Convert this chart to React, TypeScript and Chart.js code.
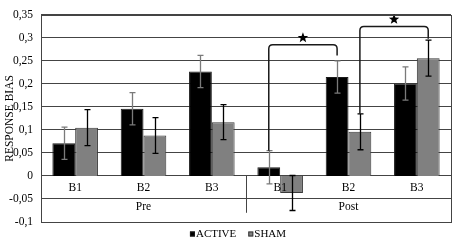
import React, { useEffect, useRef } from "react";
import { Chart, registerables } from "chart.js";

Chart.register(...registerables);

const CATEGORIES = ["B1", "B2", "B3", "B1", "B2", "B3"];
const GROUPS = ["Pre", "Post"];
const GROUP_SIZE = 3;
const SERIES_NAMES = ["ACTIVE", "SHAM"];
const ACTIVE = [0.071, 0.146, 0.227, 0.019, 0.215, 0.201];
const SHAM = [0.105, 0.088, 0.117, -0.037, 0.096, 0.256];
const ACTIVE_ERR = [0.035, 0.035, 0.035, 0.036, 0.035, 0.036];
const SHAM_ERR = [0.039, 0.039, 0.038, 0.038, 0.039, 0.039];
const Y_MIN = -0.1;
const Y_MAX = 0.35;
const Y_STEP = 0.05;
const Y_TITLE = "RESPONSE BIAS";

// significance brackets
const BR_LEFT_CAT = [3, 4];
const BR_LEFT_SET = [0, 1];
const BR_LEFT_Y = [0.055, 0.135];
const BR_RIGHT_CAT = [4, 5];
const BR_RIGHT_SET = [0, 1];
const BR_RIGHT_Y = [0.262, 0.298];
const BR_TOP_Y = [0.285, 0.325];

const FONT_FAMILY = "'Liberation Serif', 'Times New Roman', serif";
const GRID = "#444444";

function drawStar(ctx: CanvasRenderingContext2D, cx: number, cy: number, r: number) {
  ctx.beginPath();
  for (let i = 0; i < 10; i++) {
    const rad = i % 2 === 0 ? r : r * 0.42;
    const a = -Math.PI / 2 + (i * Math.PI) / 5;
    const x = cx + rad * Math.cos(a);
    const y = cy + rad * Math.sin(a);
    if (i === 0) ctx.moveTo(x, y);
    else ctx.lineTo(x, y);
  }
  ctx.closePath();
  ctx.fill();
}

const decorPlugin = {
  id: "decor",
  afterDatasetsDraw(chart: any) {
    const ctx: CanvasRenderingContext2D = chart.ctx;
    const xs = chart.scales.x;
    const ys = chart.scales.y;
    const area = chart.chartArea;
    ctx.save();

    // category labels
    ctx.fillStyle = "#000";
    ctx.font = `11.5px ${FONT_FAMILY}`;
    ctx.textAlign = "center";
    ctx.textBaseline = "middle";
    CATEGORIES.forEach((c, i) => {
      ctx.fillText(c, xs.getPixelForValue(i), ys.getPixelForValue(-0.027));
    });
    GROUPS.forEach((g, gi) => {
      const a = xs.getPixelForValue(gi * GROUP_SIZE);
      const b = xs.getPixelForValue(gi * GROUP_SIZE + GROUP_SIZE - 1);
      ctx.fillText(g, (a + b) / 2, ys.getPixelForValue(-0.0675));
    });
    // group separator
    ctx.strokeStyle = GRID;
    ctx.lineWidth = 1;
    for (let gi = 1; gi < GROUPS.length; gi++) {
      const x = Math.round(
        (xs.getPixelForValue(gi * GROUP_SIZE - 1) + xs.getPixelForValue(gi * GROUP_SIZE)) / 2
      ) + 0.5;
      ctx.beginPath();
      ctx.moveTo(x, ys.getPixelForValue(0));
      ctx.lineTo(x, ys.getPixelForValue(-0.08));
      ctx.stroke();
    }

    // error bars
    const errs = [ACTIVE_ERR, SHAM_ERR];
    const vals = [ACTIVE, SHAM];
    const errColors = ["#7a7a7a", "#000000"];
    [0, 1].forEach((ds) => {
      const meta = chart.getDatasetMeta(ds);
      ctx.strokeStyle = errColors[ds];
      ctx.lineWidth = 1.3;
      meta.data.forEach((el: any, i: number) => {
        const v = vals[ds][i];
        const e = errs[ds][i];
        const yt = ys.getPixelForValue(v + e);
        const yb = ys.getPixelForValue(v - e);
        const x = Math.round(el.x) + 0.5;
        ctx.beginPath();
        ctx.moveTo(x, yt);
        ctx.lineTo(x, yb);
        ctx.moveTo(x - 3, yt);
        ctx.lineTo(x + 3, yt);
        ctx.moveTo(x - 3, yb);
        ctx.lineTo(x + 3, yb);
        ctx.stroke();
      });
    });

    // significance brackets
    ctx.strokeStyle = "#1a1a1a";
    ctx.fillStyle = "#000";
    ctx.lineWidth = 1.5;
    BR_TOP_Y.forEach((top, i) => {
      const xl = chart.getDatasetMeta(BR_LEFT_SET[i]).data[BR_LEFT_CAT[i]].x;
      const xr = chart.getDatasetMeta(BR_RIGHT_SET[i]).data[BR_RIGHT_CAT[i]].x;
      const yl = ys.getPixelForValue(BR_LEFT_Y[i]);
      const yr = ys.getPixelForValue(BR_RIGHT_Y[i]);
      const yt = ys.getPixelForValue(top);
      const r = 4;
      ctx.beginPath();
      ctx.moveTo(xl, yl);
      ctx.lineTo(xl, yt + r);
      ctx.quadraticCurveTo(xl, yt, xl + r, yt);
      ctx.lineTo(xr - r, yt);
      ctx.quadraticCurveTo(xr, yt, xr, yt + r);
      ctx.lineTo(xr, yr);
      ctx.stroke();
      drawStar(ctx, (xl + xr) / 2, yt - 7, 5.5);
    });

    // plot border
    ctx.strokeStyle = GRID;
    ctx.lineWidth = 1;
    ctx.strokeRect(
      Math.round(area.left) + 0.5,
      Math.round(area.top) + 0.5,
      Math.round(area.right - area.left),
      Math.round(area.bottom - area.top)
    );

    ctx.restore();
  },
  afterDraw(chart: any) {
    const ctx: CanvasRenderingContext2D = chart.ctx;
    ctx.save();
    ctx.font = `11px ${FONT_FAMILY}`;
    ctx.textBaseline = "middle";
    ctx.textAlign = "left";
    const box = 5;
    const gapBoxText = 1;
    const gapItems = 12;
    const items = chart.data.datasets.map((d: any) => ({
      label: d.label,
      fill: d.backgroundColor,
      border: d.borderColor,
      w: box + gapBoxText + ctx.measureText(d.label).width,
    }));
    const total = items.reduce((s: number, it: any) => s + it.w, 0) + gapItems * (items.length - 1);
    let x = 238 - total / 2;
    const y = 234;
    items.forEach((it: any) => {
      ctx.fillStyle = it.fill;
      ctx.fillRect(x, y - box / 2, box, box);
      ctx.strokeStyle = it.border;
      ctx.lineWidth = 1;
      ctx.strokeRect(x + 0.5, y - box / 2 + 0.5, box - 1, box - 1);
      ctx.fillStyle = "#000";
      ctx.fillText(it.label, x + box + gapBoxText, y);
      x += it.w + gapItems;
    });
    ctx.restore();
  },
};

export default function App() {
  const ref = useRef<HTMLCanvasElement | null>(null);
  useEffect(() => {
    document.body.style.margin = "0";
    if (!ref.current) return;
    const chart = new Chart(ref.current, {
      type: "bar",
      data: {
        labels: CATEGORIES.map((c, i) => `${c}-${i}`),
        datasets: [
          {
            label: SERIES_NAMES[0],
            data: ACTIVE,
            backgroundColor: "#000000",
            borderColor: "#1a1a1a",
            borderWidth: 1,
            categoryPercentage: 0.667,
            barPercentage: 1.0,
          },
          {
            label: SERIES_NAMES[1],
            data: SHAM,
            backgroundColor: "#808080",
            borderColor: "#3a3a3a",
            borderWidth: 1,
            categoryPercentage: 0.667,
            barPercentage: 1.0,
          },
        ],
      },
      options: {
        responsive: false,
        animation: false,
        layout: { padding: { left: 0, right: 3, top: 7, bottom: 23 } },
        plugins: {
          legend: { display: false },
          tooltip: { enabled: false },
        },
        scales: {
          x: {
            display: false,
            grid: { display: false },
          },
          y: {
            min: Y_MIN,
            max: Y_MAX,
            afterFit: (scale: any) => {
              scale.width = 41;
            },
            ticks: {
              stepSize: Y_STEP,
              padding: 8,
              color: "#000",
              font: { family: FONT_FAMILY, size: 11.5 },
              callback: (v: any) =>
                String(Math.round(Number(v) * 100) / 100).replace(".", ","),
            },
            grid: {
              color: GRID,
              lineWidth: 1,
              drawTicks: false,
            },
            border: { display: true, color: GRID, width: 1 },
            title: {
              display: true,
              text: Y_TITLE,
              color: "#000",
              font: { family: FONT_FAMILY, size: 11.5, weight: "normal" },
              padding: { top: 3, bottom: 0 },
            },
          },
        },
      },
      plugins: [decorPlugin],
    });
    return () => chart.destroy();
  }, []);
  return (
    <div style={{ width: 454, height: 245 }}>
      <canvas ref={ref} width={454} height={245} style={{ display: "block" }} />
    </div>
  );
}
